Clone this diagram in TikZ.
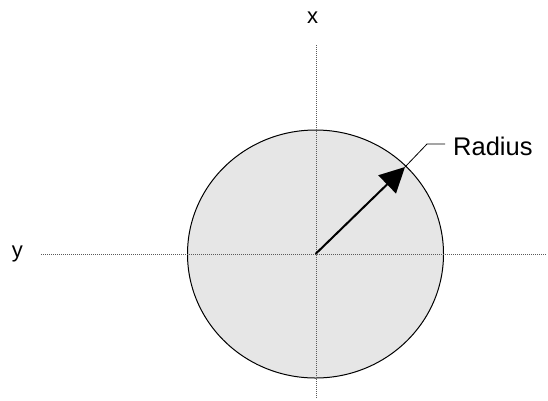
\documentclass[tikz,border=0pt]{standalone}
\usepackage{fontspec}
\setmainfont{Liberation Sans}
\usetikzlibrary{arrows.meta}
\definecolor{diskfill}{HTML}{E6E6E6}
\definecolor{axisgray}{HTML}{5A5A5A}
\begin{document}
\begin{tikzpicture}[x=1pt,y=-1pt,
  axisline/.style={draw=axisgray, line width=1pt, dash pattern=on 1pt off 1pt},
  disk/.style={draw=black, line width=1pt, fill=diskfill},
  radarrow/.style={draw=black, line width=2pt, -{Triangle[length=25pt,width=25pt]}},
  leader/.style={draw=black, line width=0.8pt},
  axlabel/.style={font=\fontsize{22}{26}\selectfont, inner sep=0pt, anchor=base},
  biglabel/.style={font=\fontsize{25.5}{30}\selectfont, inner sep=0pt, anchor=base west}]
\useasboundingbox (0,0) rectangle (548,400);
\coordinate (c) at (315.5,254);
\draw[disk] (c) ellipse [x radius=128, y radius=124];
\coordinate (xtop) at (316,45);
\coordinate (xbot) at (316,398);
\coordinate (yl) at (41,254.5);
\coordinate (yr) at (547,254.5);
\draw[axisline] (xtop) -- (xbot);
\draw[axisline] (yl) -- (yr);
\node[axlabel] (xlab) at (312.7,23.7) {x};
\node[axlabel] (ylab) at (17.3,257.5) {y};
\coordinate (tip) at (405,167);
\draw[radarrow] (c) -- (tip);
\node[biglabel] (rad) at (453,155) {Radius};
\coordinate (elbow) at (427,144);
\coordinate (lend) at (445,144);
\draw[leader] (tip) -- (elbow) -- (lend);
\end{tikzpicture}
\end{document}
